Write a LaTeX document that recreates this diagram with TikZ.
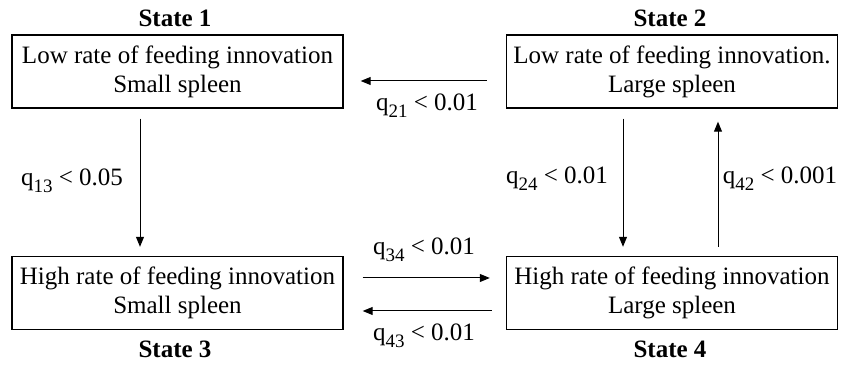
\documentclass[tikz,border=0pt]{standalone}
\usepackage{fontspec}
\setmainfont{Liberation Serif}
\usetikzlibrary{arrows.meta}
\newcommand{\qsub}[1]{q\raisebox{-3.5pt}{\fontsize{9.5}{10}\selectfont #1}}
\begin{document}
\begin{tikzpicture}[x=0.5pt,y=-0.5pt,
  statebox/.style={draw,line width=0.7pt,minimum width=165.5pt,minimum height=36.5pt,inner sep=0pt,align=center,font=\fontsize{12.5}{14.5}\selectfont},
  statelabel/.style={font=\fontsize{12.5}{14.5}\selectfont\bfseries},
  ratelabel/.style={font=\fontsize{12.5}{14.5}\selectfont,inner sep=0pt},
  arr/.style={line width=0.5pt,-{Triangle[length=5pt,width=4pt]}}]
\useasboundingbox (0,0) rectangle (843,368);
\node[statebox] (b1) at (177.5,71.5) {Low rate of feeding innovation\\Small spleen};
\node[statebox] (b2) at (672,71.5) {Low rate of feeding innovation.\\Large spleen};
\node[statebox] (b3) at (177.5,293) {High rate of feeding innovation\\Small spleen};
\node[statebox] (b4) at (672,293) {High rate of feeding innovation\\Large spleen};
\node[statelabel] (s1) at (175,18) {State 1};
\node[statelabel] (s2) at (670,18) {State 2};
\node[statelabel] (s3) at (175,349) {State 3};
\node[statelabel] (s4) at (670,349) {State 4};
\draw[arr,shorten <=9.5pt,shorten >=8.5pt] ([yshift=-4.75pt]b2.west) -- ([yshift=-4.75pt]b1.east);
\draw[arr,shorten <=5pt,shorten >=4.5pt] ([xshift=-18.75pt]b1.south) -- ([xshift=-18.75pt]b3.north);
\draw[arr,shorten <=5pt,shorten >=4.5pt] ([xshift=-24.5pt]b2.south) -- ([xshift=-24.5pt]b4.north);
\draw[arr,shorten <=4.5pt,shorten >=6.5pt] ([xshift=23pt]b4.north) -- ([xshift=23pt]b2.south);
\draw[arr,shorten <=9.5pt,shorten >=8pt] ([yshift=7.5pt]b3.east) -- ([yshift=7.5pt]b4.west);
\draw[arr,shorten <=7pt,shorten >=9.5pt] ([yshift=-9pt]b4.west) -- ([yshift=-9pt]b3.east);
\node[ratelabel] (l21) at (427,106) {\qsub{21} < 0.01};
\node[ratelabel] (l13) at (72,181) {\qsub{13} < 0.05};
\node[ratelabel] (l24) at (557,179) {\qsub{24} < 0.01};
\node[ratelabel] (l42) at (780,179) {\qsub{42} < 0.001};
\node[ratelabel] (l34) at (424,250) {\qsub{34} < 0.01};
\node[ratelabel] (l43) at (424,336) {\qsub{43} < 0.01};
\end{tikzpicture}
\end{document}
